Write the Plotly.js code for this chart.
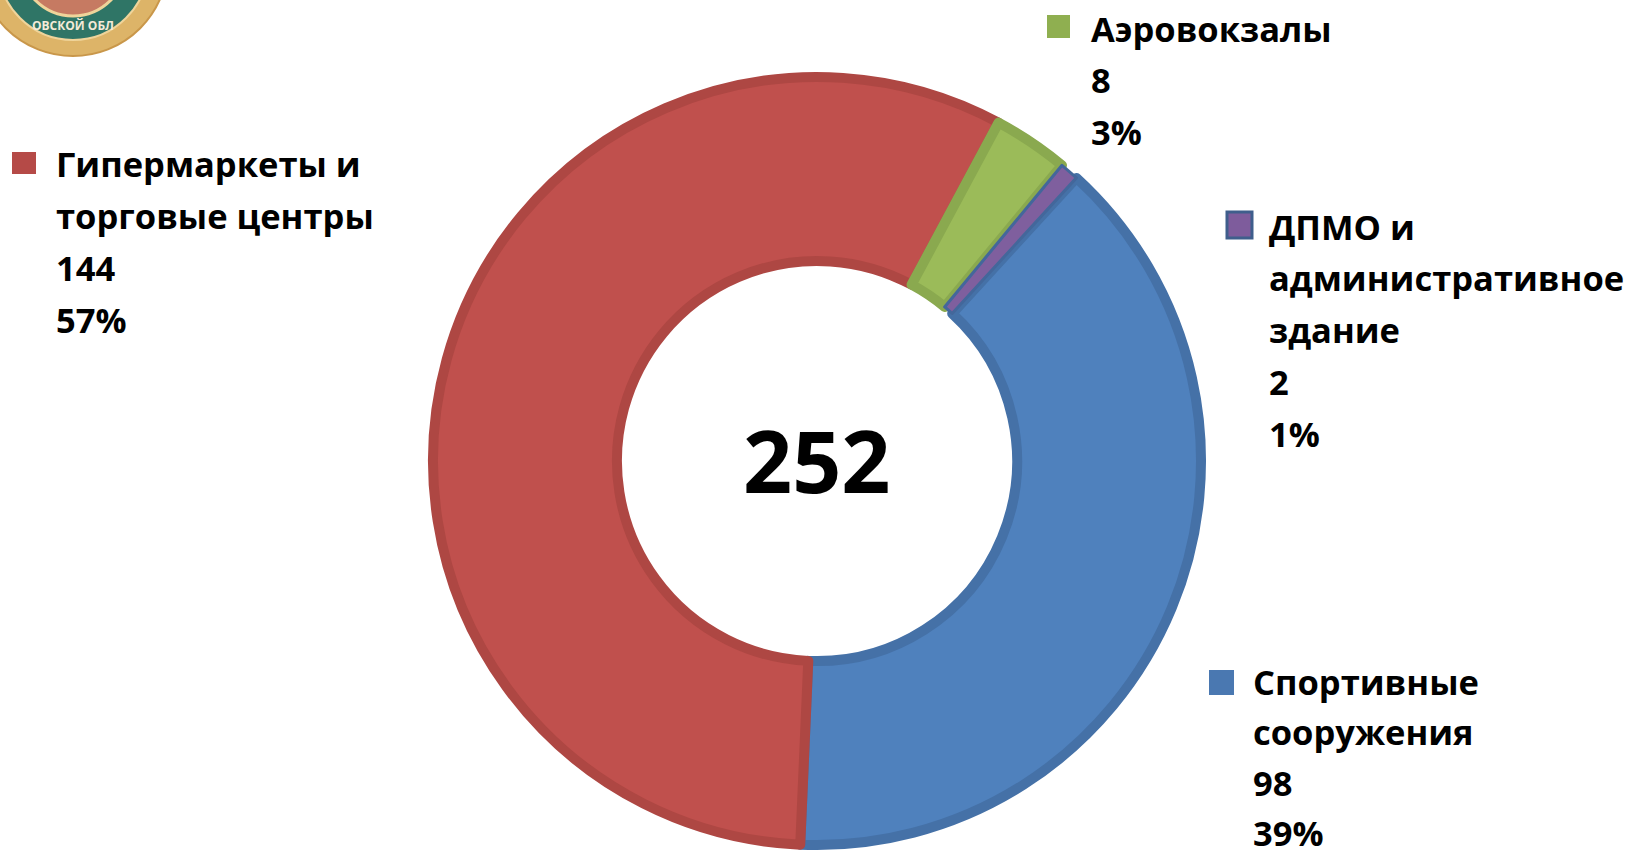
<!DOCTYPE html>
<html><head><meta charset="utf-8">
<script src="https://cdn.plot.ly/plotly-3.0.1.min.js"></script>
<style>html,body{margin:0;padding:0;background:#fff;overflow:hidden}#chart{width:1626px;height:857px}</style>
</head><body><div id="chart"></div>
<script>
// ---- data (clockwise order starting from the lower-right slice) ----
const categories = ["Спортивные сооружения", "Гипермаркеты и торговые центры", "Аэровокзалы", "ДПМО и административное здание"];
const labelLines = [["Спортивные", "сооружения"], ["Гипермаркеты и", "торговые центры"], ["Аэровокзалы"], ["ДПМО и", "административное", "здание"]];
const values = [98, 144, 8, 2];
const centerLabel = "252";

// ---- styles ----
const fillColors = ["#4F81BD", "#C0504D", "#9BBB59", "#7F5F9E"];
const edgeColors = ["#4571A7", "#AE4743", "#8AA94F", "#43679B"];
const edgeWidths = [10, 10, 10, 3];
const keyFill = ["#4A78B1", "#B54A47", "#8FAF50", "#7E5C9C"];
const keyEdge = ["#4A78B1", "#B54A47", "#8FAF50", "#3F5E8C"];
const keyEdgeW = [0, 0, 0, 3];
// legend block positions (px): key square box, text x, first line centre
const keyPos = [
  {sx0: 1209, sx1: 1234, sy0: 670, sy1: 695, tx: 1251, ty: 681, lh: 50.5},
  {sx0: 12, sx1: 36, sy0: 152, sy1: 174, tx: 54, ty: 164, lh: 51.8},
  {sx0: 1047, sx1: 1070, sy0: 15, sy1: 38, tx: 1089, ty: 28, lh: 51.8},
  {sx0: 1227, sx1: 1252, sy0: 212, sy1: 238, tx: 1267, ty: 226, lh: 51.8}
];
const W = 1626, H = 857;
const FONT = "'Open Sans', 'Noto Sans', sans-serif";
const px = x => x / W, py = y => 1 - y / H;

const total = values.reduce((a, b) => a + b, 0);

const trace = {
  type: 'pie',
  labels: categories,
  values: values,
  sort: false,
  direction: 'clockwise',
  rotation: 42.5,
  hole: 0.521,
  textinfo: 'none',
  hoverinfo: 'label+value+percent',
  marker: {colors: fillColors, line: {color: edgeColors, width: edgeWidths}},
  domain: {x: [px(433), px(1201)], y: [py(845), py(77)]},
  showlegend: false
};

const annotations = [];
const shapes = [];

// emblem (decorative, top-left, cut off)
shapes.push({type: 'circle', xref: 'paper', yref: 'paper', layer: 'below',
  x0: px(-22), x1: px(168), y0: py(56), y1: py(-134), fillcolor: '#DDB468', line: {color: '#C9974A', width: 2}});
shapes.push({type: 'circle', xref: 'paper', yref: 'paper', layer: 'below',
  x0: px(-2), x1: px(148), y0: py(40), y1: py(-110), fillcolor: '#2F7566', line: {color: '#EFD49A', width: 2}});
shapes.push({type: 'circle', xref: 'paper', yref: 'paper', layer: 'below',
  x0: px(20), x1: px(126), y0: py(16), y1: py(-90), fillcolor: '#C67A62', line: {color: '#EFD49A', width: 3}});
annotations.push({xref: 'paper', yref: 'paper', x: px(73), y: py(25), xanchor: 'center', yanchor: 'middle',
  text: '<b>ОВСКОЙ ОБЛ</b>', showarrow: false, font: {family: FONT, size: 12, color: '#F4EBD8'}});

values.forEach((v, i) => {
  const k = keyPos[i];
  shapes.push({type: 'rect', xref: 'paper', yref: 'paper',
    x0: px(k.sx0), x1: px(k.sx1), y0: py(k.sy1), y1: py(k.sy0),
    fillcolor: keyFill[i], line: {color: keyEdge[i], width: keyEdgeW[i]}});
  const lines = labelLines[i].concat([String(v), Math.round(v / total * 100) + '%']);
  lines.forEach((t, j) => {
    annotations.push({xref: 'paper', yref: 'paper', x: px(k.tx), y: py(k.ty + j * k.lh),
      xanchor: 'left', yanchor: 'middle', text: '<b>' + t + '</b>', showarrow: false,
      font: {family: FONT, size: 34.5, color: '#000000'}});
  });
});

annotations.push({xref: 'paper', yref: 'paper', x: px(817), y: py(459), xanchor: 'center', yanchor: 'middle',
  text: '<b>' + centerLabel + '</b>', showarrow: false, font: {family: FONT, size: 86, color: '#000000'}});

const layout = {
  width: W, height: H,
  margin: {l: 0, r: 0, t: 0, b: 0, pad: 0},
  paper_bgcolor: '#FFFFFF', plot_bgcolor: '#FFFFFF',
  showlegend: false,
  shapes: shapes,
  annotations: annotations
};

Plotly.newPlot('chart', [trace], layout, {displayModeBar: false, staticPlot: true});
</script>
</body></html>
